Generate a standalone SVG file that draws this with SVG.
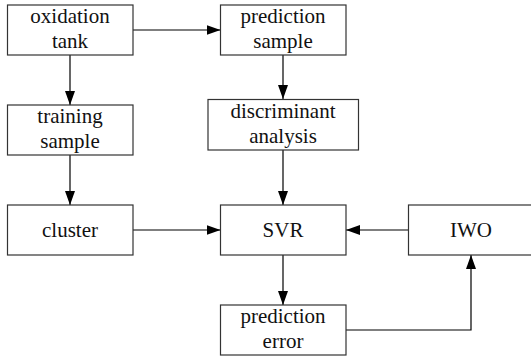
<svg xmlns="http://www.w3.org/2000/svg" width="531" height="358" viewBox="0 0 531 358">
<defs>
<marker id="ah" markerWidth="14" markerHeight="10" refX="14" refY="5" orient="auto" markerUnits="userSpaceOnUse">
<path d="M0,0 L14,5 L0,10 Z" fill="#000"/>
</marker>
<style>
.box{fill:#fff;stroke:#333;stroke-width:1.2}
text{font-family:"Liberation Serif","Times New Roman",serif;font-size:21px;fill:#111;text-anchor:middle}
#connectors path{fill:none;stroke:#000;stroke-width:1.2;marker-end:url(#ah)}
</style>
</defs>
<rect width="531" height="358" fill="#fff"/>
<g id="connectors">
<path d="M133,30 H220.5"/>
<path d="M70,55 V105"/>
<path d="M283,55 V99"/>
<path d="M70,155 V205"/>
<path d="M283,150 V205"/>
<path d="M133,230 H220.5"/>
<path d="M408.5,230 H346"/>
<path d="M283,255 V305"/>
<path d="M346,330 H471 V255"/>
</g>
<g id="oxidation-tank"><rect class="box" x="7.5" y="5" width="125.5" height="50"/><text x="70" y="23">oxidation</text><text x="70" y="48">tank</text></g>
<g id="prediction-sample"><rect class="box" x="220.5" y="5" width="125.5" height="50"/><text x="283" y="23">prediction</text><text x="283" y="48">sample</text></g>
<g id="training-sample"><rect class="box" x="7.5" y="105" width="125.5" height="50"/><text x="70" y="123">training</text><text x="70" y="148">sample</text></g>
<g id="discriminant-analysis"><rect class="box" x="208" y="99.5" width="150.5" height="50.5"/><text x="283" y="118">discriminant</text><text x="283" y="143">analysis</text></g>
<g id="cluster"><rect class="box" x="7.5" y="205" width="125.5" height="50"/><text x="70" y="237">cluster</text></g>
<g id="svr"><rect class="box" x="220.5" y="205" width="125.5" height="50"/><text x="283" y="237">SVR</text></g>
<g id="iwo"><rect class="box" x="408.5" y="205" width="125.5" height="50"/><text x="471" y="237">IWO</text></g>
<g id="prediction-error"><rect class="box" x="220.5" y="305" width="125.5" height="50"/><text x="283" y="323">prediction</text><text x="283" y="348">error</text></g>
</svg>
